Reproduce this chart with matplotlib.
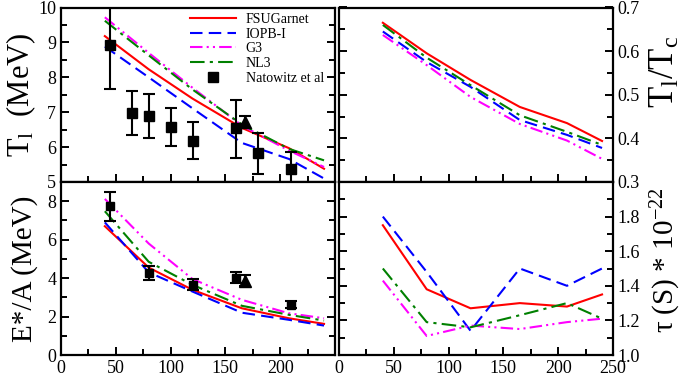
import numpy as np
import matplotlib
matplotlib.use('Agg')
import matplotlib.pyplot as plt
from matplotlib.ticker import MultipleLocator, FormatStrFormatter
from matplotlib.lines import Line2D

plt.rcParams['font.family'] = ['Liberation Serif', 'DejaVu Serif']
plt.rcParams['mathtext.fontset'] = 'custom'
plt.rcParams['mathtext.rm'] = 'Liberation Serif'
plt.rcParams['mathtext.it'] = 'Liberation Serif:italic'

# mass number of the nuclei
A = [40, 80, 120, 165, 208, 240]

# limiting temperature T_l (MeV)
tl_fsu = [9.18, 8.23, 7.39, 6.55, 5.97, 5.38]
tl_iopb = [8.88, 8.00, 7.11, 6.12, 5.66, 5.10]
tl_g3 = [9.72, 8.70, 7.70, 6.62, 5.90, 5.43]
tl_nl3 = [9.62, 8.63, 7.65, 6.65, 5.95, 5.62]

# T_l / T_c
ratio_fsu = [0.665, 0.595, 0.534, 0.472, 0.435, 0.394]
ratio_iopb = [0.645, 0.575, 0.518, 0.442, 0.408, 0.378]
ratio_g3 = [0.637, 0.568, 0.495, 0.433, 0.395, 0.353]
ratio_nl3 = [0.660, 0.585, 0.522, 0.453, 0.415, 0.385]

# excitation energy per nucleon E*/A (MeV)
ex_fsu = [6.70, 4.55, 3.39, 2.43, 1.91, 1.62]
ex_iopb = [6.90, 4.30, 3.30, 2.20, 1.83, 1.53]
ex_g3 = [8.12, 5.80, 3.95, 2.87, 2.17, 1.91]
ex_nl3 = [7.48, 4.85, 3.65, 2.56, 2.09, 1.79]

# life time tau (10^-22 s)
tau_fsu = [1.75, 1.38, 1.27, 1.30, 1.28, 1.35]
tau_iopb = [1.80, 1.48, 1.14, 1.50, 1.40, 1.50]
tau_g3 = [1.43, 1.11, 1.17, 1.15, 1.19, 1.21]
tau_nl3 = [1.50, 1.19, 1.16, 1.23, 1.30, 1.21]

# Natowitz et al, T_l
nat_A = [45, 65, 80, 100, 120, 160, 180, 210]
nat_T = [8.92, 6.97, 6.89, 6.59, 6.18, 6.54, 5.82, 5.36]
nat_T_lo = [1.26, 0.62, 0.64, 0.55, 0.53, 0.84, 0.58, 0.45]
nat_T_hi = [1.10, 0.65, 0.63, 0.54, 0.55, 0.82, 0.57, 0.51]
tri_A = [168]
tri_T = [6.73]
tri_T_err = [0.17]

# Natowitz et al, E*/A
nat_EA = [45, 80, 120, 160, 210]
nat_E = [7.74, 4.26, 3.65, 4.03, 2.61]
nat_E_lo = [0.78, 0.35, 0.26, 0.26, 0.18]
nat_E_hi = [0.73, 0.38, 0.30, 0.27, 0.22]
tri_EA = [168]
tri_E = [3.86]
tri_E_err = [0.28]

fig = plt.figure(figsize=(6.86, 3.77), dpi=100)
W, H = 686, 377

def make_ax(x0, x1, y0, y1):
    return fig.add_axes([x0 / W, (H - y1) / H, (x1 - x0) / W, (y1 - y0) / H])

ax1 = make_ax(61, 335, 7.5, 182)
ax2 = make_ax(339, 613, 7.5, 182)
ax3 = make_ax(61, 335, 182, 355)
ax4 = make_ax(339, 613, 182, 355)

styles = [
    ('FSUGarnet', 'red', '-'),
    ('IOPB-I', 'blue', (0, (6, 3))),
    ('G3', 'magenta', (0, (6, 2, 1, 2, 1, 2))),
    ('NL3', 'green', (0, (7, 2.5, 1.5, 2.5))),
]

def draw(ax, ys):
    lines = []
    for (name, c, ls), y in zip(styles, ys):
        lines += ax.plot(A, y, color=c, ls=ls, lw=1.5, label=name)
    return lines

handles = draw(ax1, [tl_fsu, tl_iopb, tl_g3, tl_nl3])
draw(ax2, [ratio_fsu, ratio_iopb, ratio_g3, ratio_nl3])
draw(ax3, [ex_fsu, ex_iopb, ex_g3, ex_nl3])
draw(ax4, [tau_fsu, tau_iopb, tau_g3, tau_nl3])

eb = dict(color='black', capsize=4, elinewidth=1.5, capthick=1.5)
ax1.errorbar(nat_A, nat_T, yerr=[nat_T_lo, nat_T_hi], fmt='s', ms=7, **eb)
ax1.errorbar(tri_A, tri_T, yerr=tri_T_err, fmt='^', ms=8, **eb)
ax3.errorbar(nat_EA, nat_E, yerr=[nat_E_lo, nat_E_hi], fmt='s', ms=6, **eb)
ax3.errorbar(tri_EA, tri_E, yerr=tri_E_err, fmt='^', ms=8, **eb)

handles.append(Line2D([], [], ls='none', marker='s', color='black', ms=7))
ax1.legend(handles, [s[0] for s in styles] + ['Natowitz et al'],
           loc='upper right', bbox_to_anchor=(0.982, 1.005),
           frameon=False, fontsize=10, handlelength=3.3,
           labelspacing=0.12, borderaxespad=0.15, handletextpad=0.7,
           borderpad=0.3)

for ax in [ax1, ax2, ax3, ax4]:
    ax.set_xlim(0, 250)
    ax.xaxis.set_major_locator(MultipleLocator(50))
    ax.xaxis.set_minor_locator(MultipleLocator(25))
    for s in ax.spines.values():
        s.set_linewidth(1.6)
    ax.tick_params(which='both', direction='in', left=True, right=True,
                   top=False, bottom=True, labelsize=13, width=1.4)
    ax.tick_params(which='major', length=6)
    ax.tick_params(which='minor', length=4)

ax1.set_ylim(5, 10)
ax1.yaxis.set_major_locator(MultipleLocator(1))
ax1.yaxis.set_minor_locator(MultipleLocator(0.5))
ax2.set_ylim(0.3, 0.7)
ax2.yaxis.set_major_locator(MultipleLocator(0.1))
ax2.yaxis.set_minor_locator(MultipleLocator(0.05))
ax3.set_ylim(0, 9)
ax3.set_yticks([0, 2, 4, 6, 8])
ax3.yaxis.set_minor_locator(MultipleLocator(1))
ax4.set_ylim(1.0, 2.0)
ax4.set_yticks([1.0, 1.2, 1.4, 1.6, 1.8])
ax4.yaxis.set_minor_locator(MultipleLocator(0.1))

for ax in [ax1, ax2]:
    ax.tick_params(labelbottom=False)
for ax in [ax2, ax4]:
    ax.tick_params(labelleft=False, labelright=True)
    ax.yaxis.set_label_position('right')
    ax.yaxis.set_major_formatter(FormatStrFormatter('%.1f'))
ax3.set_xticks([0, 50, 100, 150, 200])
ax3.xaxis.set_minor_locator(MultipleLocator(25))

ax1.set_ylabel('T$_\\mathrm{l}$  (MeV)', fontsize=22)
ax3.set_ylabel('E*/A (MeV)', fontsize=21)
ax2.set_ylabel('T$_\\mathrm{l}$/T$_\\mathrm{c}$', fontsize=25)
ax4.set_ylabel('\u03c4 (S) * 10$^{-22}$', fontsize=21)
ax1.yaxis.set_label_coords(-0.085, 0.5)
ax3.yaxis.set_label_coords(-0.085, 0.5)
ax2.yaxis.set_label_coords(1.13, 0.63)
ax4.yaxis.set_label_coords(1.13, 0.55)

fig.savefig('out.png', dpi=100)
